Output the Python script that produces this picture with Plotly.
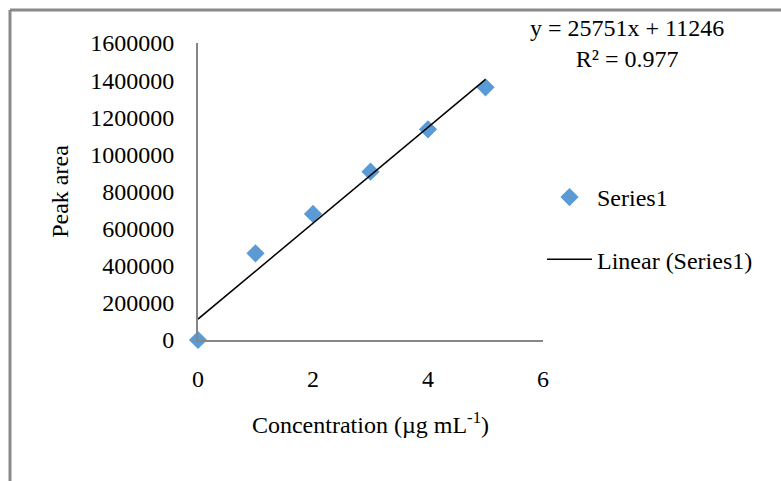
import numpy as np
import plotly.graph_objects as go

# Data
concentration = [0, 1, 2, 3, 4, 5]
peak_area = [0, 467000, 679000, 907000, 1135000, 1361000]
x_ticks = [0, 2, 4, 6]
y_ticks = [0, 200000, 400000, 600000, 800000, 1000000, 1200000, 1400000, 1600000]
equation_text = "y = 25751x + 11246<br>R² = 0.977"

slope, intercept = np.polyfit(concentration, peak_area, 1)
fit_x = [concentration[0], concentration[-1]]
fit_y = [slope * v + intercept for v in fit_x]

W, H = 781, 481
ML, MR, MT, MB = 198, 238, 43, 141
PW, PH = W - ML - MR, H - MT - MB

def px(xp):
    return (xp - ML) / PW

def py(yp):
    return (H - MB - yp) / PH

FONT = "Liberation Serif, Times New Roman, serif"
AX = "#868686"

fig = go.Figure()
fig.add_trace(go.Scatter(
    x=concentration, y=peak_area, mode="markers", name="Series1",
    marker=dict(symbol="diamond", size=14, color="#5B9BD5"),
    cliponaxis=False, legendgroup="a",
))
fig.add_trace(go.Scatter(
    x=fit_x, y=fit_y, mode="lines", name="Linear (Series1)",
    line=dict(color="black", width=1.5), legendgroup="b",
))

fig.update_layout(
    width=W, height=H,
    margin=dict(l=ML, r=MR, t=MT, b=MB),
    paper_bgcolor="white", plot_bgcolor="white",
    font=dict(family=FONT, size=24, color="black"),
    showlegend=True,
    legend=dict(x=px(542), y=py(175), xanchor="left", yanchor="top",
                itemwidth=45, tracegroupgap=28, font=dict(size=24),
                bgcolor="rgba(0,0,0,0)"),
    xaxis=dict(range=[0, 6], tickvals=x_ticks, showgrid=False, zeroline=False,
               showline=True, linecolor=AX, linewidth=2, ticks="",
               ticklabelstandoff=16, tickfont=dict(size=24),
               title=dict(text="Concentration (µg mL<sup>-1</sup>)", standoff=25,
                          font=dict(size=24))),
    yaxis=dict(range=[0, 1600000], tickvals=y_ticks, showgrid=False, zeroline=False,
               showline=True, linecolor=AX, linewidth=2, ticks="",
               ticklabelstandoff=17, tickformat="d", tickfont=dict(size=24),
               title=dict(text="Peak area", standoff=15, font=dict(size=24))),
    annotations=[dict(
        text=equation_text, xref="paper", yref="paper", x=px(627), y=py(13),
        xanchor="center", yanchor="top", showarrow=False, align="center",
        font=dict(size=24),
    )],
    shapes=[
        dict(type="line", xref="paper", yref="paper", x0=px(10), x1=px(781),
             y0=py(10), y1=py(10), line=dict(color="#8a8a8a", width=3)),
        dict(type="line", xref="paper", yref="paper", x0=px(10), x1=px(10),
             y0=py(10), y1=py(481), line=dict(color="#8a8a8a", width=3)),
    ],
)

fig.write_html("out.html")
